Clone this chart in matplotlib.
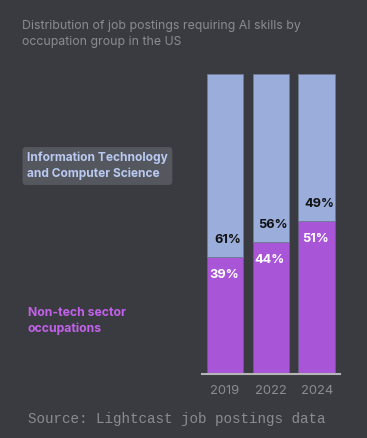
import matplotlib
matplotlib.use("Agg")
import matplotlib.pyplot as plt
import numpy as np

# Data
years = ["2019", "2022", "2024"]
non_tech = [39, 44, 51]
it_cs = [61, 56, 49]

BG = "#3a3b40"
BLUE = "#9aaddb"
PURPLE = "#a855d8"
GRAY_TXT = "#8b8c90"

W, H = 367, 438
fig = plt.figure(figsize=(W / 100, H / 100), dpi=100, facecolor=BG)

# axes placed in pixel terms so bars line up with the reference
left, right, top, bottom = 201.7, 340, 74.3, 373.5
ax = fig.add_axes([left / W, 1 - bottom / H, (right - left) / W, (bottom - top) / H])
ax.set_facecolor(BG)

x = np.arange(len(years))
ax.bar(x, non_tech, width=0.8, color=PURPLE, edgecolor="#6b5c8a", linewidth=0.6)
ax.bar(x, it_cs, width=0.8, bottom=non_tech, color=BLUE, edgecolor="#6f7a96", linewidth=0.6)

for xi, a, b in zip(x, non_tech, it_cs):
    ax.text(xi - 0.02, a - 6, f"{a}%", ha="center", va="center", color="white",
            fontsize=9.2, fontweight="bold", family="Inter")
    ax.text(xi + 0.05, a + 5.5, f"{b}%", ha="center", va="center", color="#111111",
            fontsize=9.2, fontweight="bold", family="Inter")

ax.set_xlim(-0.51, 2.51)
ax.set_ylim(0, 100)
ax.set_xticks(x)
ax.set_xticklabels(years, color=GRAY_TXT, fontsize=9.4, family="Inter")
ax.tick_params(axis="x", length=0, pad=8)
ax.set_yticks([])
for s in ["top", "right", "left"]:
    ax.spines[s].set_visible(False)
ax.spines["bottom"].set_color("#b5b5b8")
ax.spines["bottom"].set_linewidth(1.5)

# title
fig.text(22 / W, 1 - 20.5 / H, "Distribution of job postings requiring AI skills by\noccupation group in the US",
         ha="left", va="top", color=GRAY_TXT, fontsize=8.85, family="Inter", linespacing=1.4)

# series labels
fig.text(27 / W, 1 - 166 / H, "Information Technology\nand Computer Science",
         ha="left", va="center", color="#b9c9f2", fontsize=8.6, fontweight="bold",
         family="Inter", linespacing=1.4,
         bbox=dict(boxstyle="round,pad=0.38,rounding_size=0.3", facecolor="#55575e", edgecolor="none"))
fig.text(28 / W, 1 - 321 / H, "Non-tech sector\noccupations",
         ha="left", va="center", color="#c262ea", fontsize=8.8, fontweight="bold",
         family="Inter", linespacing=1.4)

# source
fig.text(28 / W, 1 - 419 / H, "Source: Lightcast job postings data",
         ha="left", va="center", color=GRAY_TXT, fontsize=10.3, family="Liberation Mono")

fig.savefig("out.png", dpi=100, facecolor=BG)
